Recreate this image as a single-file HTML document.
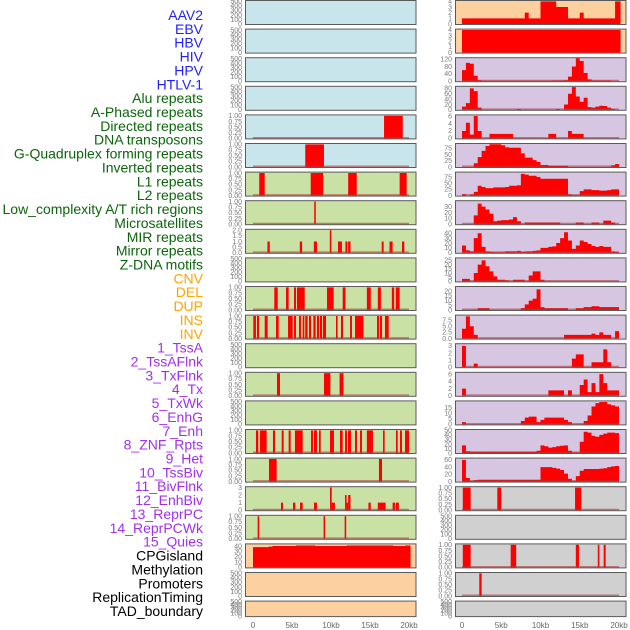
<!DOCTYPE html>
<html><head><meta charset="utf-8"><style>
html,body{margin:0;padding:0;background:#fff}
svg{display:block;font-family:"Liberation Sans",sans-serif}
</style></head><body>
<svg id="chart" width="630" height="630" viewBox="0 0 630 630" xmlns="http://www.w3.org/2000/svg"></svg>
<script>
// ---------- data ----------
const trackLabels = ["AAV2","EBV","HBV","HIV","HPV","HTLV-1","Alu repeats","A-Phased repeats","Directed repeats","DNA transposons","G-Quadruplex forming repeats","Inverted repeats","L1 repeats","L2 repeats","Low_complexity A/T rich regions","Microsatellites","MIR repeats","Mirror repeats","Z-DNA motifs","CNV","DEL","DUP","INS","INV","1_TssA","2_TssAFlnk","3_TxFlnk","4_Tx","5_TxWk","6_EnhG","7_Enh","8_ZNF_Rpts","9_Het","10_TssBiv","11_BivFlnk","12_EnhBiv","13_ReprPC","14_ReprPCWk","15_Quies","CPGisland","Methylation","Promoters","ReplicationTiming","TAD_boundary"];
const labelGroups = [6,13,5,15,5];
const xTickKb = [0,5,10,15,20];
const xTickLabels = ["0","5kb","10kb","15kb","20kb"];

// left column intervals [startKb, endKb, value]
const leftRow4 = [[16.8,19.2,1]];
const leftRow5 = [[6.7,9.1,1]];
const leftRow6 = [[0.8,1.5,1],[7.4,9.0,1],[12.2,13.3,1],[18.8,19.7,1]];
const leftRow7 = [[7.85,8.05,1]];
const leftRow8 = [[1.85,2.15,1],[6.0,6.3,1],[7.8,8.2,1],[9.85,10.05,2],[10.9,11.4,1],[11.85,12.1,1],[12.2,12.5,1],[16.5,16.75,1],[17.5,17.9,1],[19.1,19.4,1]];
const leftRow10 = [[2.73,3.17,1],[4.23,4.57,1],[5.26,5.51,1],[5.64,6.63,1],[9.49,10.34,1],[11.5,11.86,1],[14.6,15.1,1],[16.0,16.4,1],[17.8,18.1,1],[18.3,18.8,1]];
const leftRow11 = [[0.04,0.38,1],[0.51,0.77,1],[1.5,1.88,1],[2.95,3.29,1],[4.49,5.09,1],[5.26,5.51,1],[5.9,6.15,1],[6.37,6.58,1],[6.7,7.0,1],[7.18,7.44,1],[7.74,8.03,1],[8.2,8.46,1],[8.59,8.85,1],[8.97,9.36,1],[10.64,10.85,1],[11.28,11.54,1],[12.44,12.69,1],[13.08,14.15,1],[15.9,16.15,1],[16.28,16.54,1],[16.92,17.4,1]];
const leftRow13 = [[3.08,3.46,1],[9.1,9.92,1],[11.1,11.6,1]];
const leftRow15 = [[0.38,0.68,1],[0.9,1.75,1],[2.56,2.82,1],[3.68,3.93,1],[4.57,4.83,1],[5.38,6.37,1],[7.44,7.69,1],[7.82,8.2,1],[8.46,8.68,1],[9.87,10.38,1],[11.15,11.5,1],[11.8,12.05,1],[12.18,12.56,1],[13.08,13.33,1],[13.72,13.97,1],[14.6,15.38,1],[16.67,16.88,1],[18.33,18.55,1],[18.85,19.1,1],[19.49,20.0,1]];
const leftRow16 = [[2.05,3.03,1],[16.15,16.54,1]];
const leftRow17 = [[3.59,3.85,1],[5.13,5.43,1],[6.03,6.37,1],[7.82,8.2,1],[9.87,10.09,3],[10.09,10.5,1],[11.8,12.0,2],[12.0,12.2,1],[12.2,12.5,2],[14.8,15.1,1],[16.0,17.0,1],[17.9,18.2,1],[18.3,18.7,1]];
const leftRow18 = [[0.6,0.8,1],[9.05,9.25,1],[11.75,11.95,1]];
const cpgBins = [38,38,38,38,39,40,40,40,40,40,40,41,41,41,41,41,40,40,40,40,40,40,40,40,41,41,41,41,41,41,41,41,41,41,41,41,40,40,40,41];

// right column 0.5kb bins (40 bins, 0-20kb)
const aav2Bins = [1,1,1,1,1,1,1,1,1,1,1,1,1,1,1,1,2,1,1,1,4,4,4,4,3,3,3,1,1,1,2,1,1,1,1,1,1,1,1,4];
const ebvBins = [4,4,4,4,4,4,4,4,4,4,4,4,4,4,4,4,4,4,4,4,4,4,4,4,4,4,4,4,4,4,4,4,4,4,4,4,4,4,4,4];
const hivBins = [60,100,95,30,5,2,2,2,2,2,2,2,2,2,2,2,2,2,2,2,2,2,2,3,3,3,5,25,80,125,110,45,10,3,3,3,3,3,0,0];
const aluBins = [12,25,80,70,8,0,0,0,0,0,0,0,0,0,3,0,0,0,0,0,0,0,0,0,3,0,20,60,85,50,30,45,10,8,12,15,14,8,3,0];
const directedBins = [2,4.2,1,6,2,0,0,1.2,1.2,1.2,1.2,1.2,1.2,0,0,0,0,0,0,0,0,0,1.2,1.2,0,0,0,2,1.2,1.2,1.2,0,0,0,0,0,0,0,0,0];
const dnaBins = [0,0,0,15,40,65,85,92,92,92,88,80,78,78,78,55,38,38,28,20,8,8,5,5,5,5,5,0,0,0,0,0,0,0,0,0,0,0,7,12];
const gquadBins = [6,0,5,15,40,35,30,30,33,33,33,35,40,40,42,88,85,80,80,75,68,68,68,68,68,68,68,5,2,2,18,25,25,22,22,20,20,22,25,25];
const invertedBins = [0,0,0,15,35,30,25,18,5,6,7,7,8,12,5,0,3,3,3,3,3,3,3,3,3,0,0,0,0,3,3,0,0,3,3,0,6,6,3,0];
const l1Bins = [15,5,3,30,40,12,3,2,1,1,1,3,3,3,4,2,3,3,4,5,10,10,12,13,20,30,42,25,8,15,25,22,18,14,12,14,12,12,3,2];
const l2Bins = [3,3,0,10,20,25,18,12,6,2,2,1,0,2,2,2,0,7,12,12,2,0,0,0,0,0,0,0,0,0,0,0,0,0,0,0,0,0,0,0];
const lowBins = [0,0,0,0,2,2,2,0,0,0,0,0,0,0,0,2,6,10,12,22,3,2,2,2,2,2,2,0,0,2,2,3,3,4,4,3,3,3,3,3];
const microBins = [4,9,5,1.5,0,0,0,0,0,0,0,0,0,0,0,0,0,0,0,0,0,0,0,0,0,0,1.5,1.5,1.5,1.5,1.5,1.5,1.5,2,1.5,2.5,1.5,1.5,0,3];
const row12Bins = [3,0,0,0.5,0,0,0,0,0,0,0,0,0,0,0,0,0,0,0,0,0,0,0,0,0,0,0,0,1.2,1.8,1.8,0,0,0.7,0.7,0.7,2.5,0.7,0,0];
const row13Bins = [2,0,0,0,0,0,0,0,0,0,0,0,0,0,0,0,0,0,0,0,0,0,1.5,1.5,1.5,1.5,0,1.5,0,0,3,4.5,1,3.5,1,6,3.5,1.5,1.5,1.5];
const row14Bins = [2,0,0,0,0,0,0,0,0,0,0,0,0,0,0,3,6,7,7,2,4,6,6,6,6,6,4,2,0,0,0,3,8,16,19,20,20,18,17,16];
const row15Bins = [17,4,3,3,3,3,3,3,3,3,3,3,3,3,3,3,3,3,3,5,17,15,12,13,15,16,17,5,1,1,25,47,45,38,36,40,43,45,45,44];
const row16Bins = [60,10,2,4,5,5,5,5,5,5,5,5,5,5,5,5,5,5,5,5,40,40,40,38,36,32,22,8,2,15,30,35,35,35,35,36,37,40,42,43];
const rightRow17 = [[0.1,1.1,1],[4.5,5.0,1],[14.4,15.2,1]];
const rightRow19 = [[0.1,1.1,1],[6.2,6.9,1],[14.5,14.9,1],[17.3,17.5,1],[18.05,18.3,1]];
const rightRow20 = [[2.2,2.5,1]];

const emptyTicks = [0,100,200,300,400,500];
const unitTicks = [0,0.25,0.5,0.75,1];

// ---------- layout ----------
const svg = document.getElementById('chart');
const NS = 'http://www.w3.org/2000/svg';
function mk(tag, attrs, parent){const e=document.createElementNS(NS,tag);for(const k in attrs)e.setAttribute(k,attrs[k]);(parent||svg).appendChild(e);return e;}
const L = {x0:245.5,x1:416,kb0:253,kbw:7.8};
const R = {x0:455.5,x1:626,kb0:462,kbw:7.85};
function xScale(col,kb){return col.kb0+kb*col.kbw;}
function rowTop(i){return 0.5+i*28.6;}
function rowH(i){return i===21?15.5:24;}
function yScale(i,v,ymax){const b=rowTop(i)+rowH(i)-0.5;return b-(v/ymax)*(rowH(i)-0.5);}
const BG = {blue:'#c9e5ec',green:'#c9e1a5',orange:'#fdd09f',purple:'#d6c6e2',gray:'#d0d0d0'};

function fmt(v,dec){return v.toFixed(dec);}

function drawPanel(col,i,bg,ticks,dec,ymax,name,drawFn,baseline){
  const g=mk('g',{});
  
  
  const top=rowTop(i),h=rowH(i);
  const rect=mk('rect',{x:col.x0,y:top,width:col.x1-col.x0,height:h,fill:bg,stroke:'#5a5a5a','stroke-width':1},g);
  
  
  const tx = col===L?242:452;
  ticks.forEach(t=>{
    const tt=mk('text',{x:tx,y:yScale(i,t,ymax)+2.3,'text-anchor':'end','font-size':7,fill:'#7a7a7a'},g);
    tt.textContent=fmt(t,dec);
    
    
  });
  if(drawFn) drawFn(g,top,h);
  if(baseline){
    const bl=mk('line',{x1:xScale(col,0),x2:xScale(col,20),y1:top+h-1.2,y2:top+h-1.2,stroke:'rgba(175,55,55,0.6)','stroke-width':1.5},g);
    
    
  }
}
function barsFn(col,i,data,ymax){
  return function(g){
    data.forEach(d=>{
      const y=Math.max(rowTop(i),yScale(i,d[2],ymax));
      const r=mk('rect',{x:xScale(col,d[0]),y:y,width:Math.max(1,xScale(col,d[1])-xScale(col,d[0])),height:yScale(i,0,ymax)-y,fill:'#ff0000'},g);
      
      
    });
  };
}
function areaFn(col,i,bins,ymax,endKb){
  return function(g){
    const y0=yScale(i,0,ymax);
    let d='M'+xScale(col,0)+','+y0;
    bins.forEach((v,k)=>{
      const xa=xScale(col,k*0.5), xb=xScale(col,k===bins.length-1?endKb:(k+1)*0.5);
      const y=Math.max(rowTop(i),yScale(i,v,ymax));
      d+=' L'+xa+','+y+' L'+xb+','+y;
    });
    d+=' L'+xScale(col,endKb)+','+y0+' Z';
    const p=mk('path',{d:d,fill:'#ff0000'},g);
    
    
  };
}

// left column
for(let i=0;i<22;i++){
  const bg = i<6?BG.blue:(i<19?BG.green:BG.orange);
  const map = {4:leftRow4,5:leftRow5,6:leftRow6,7:leftRow7,8:leftRow8,10:leftRow10,11:leftRow11,13:leftRow13,15:leftRow15,16:leftRow16,17:leftRow17,18:leftRow18};
  if(map[i]){
    let ticks=unitTicks,dec=2,ymax=1.04;
    if(i===8){ticks=[0,0.5,1,1.5,2];dec=1;ymax=2.08;}
    if(i===17){ticks=[0,1,2,3];dec=0;ymax=3.1;}
    drawPanel(L,i,bg,ticks,dec,ymax,'left-track-'+i,barsFn(L,i,map[i],ymax),true);
  } else if(i===19){
    drawPanel(L,i,bg,[0,10,20,30,40],0,44,'left-track-cpg',areaFn(L,i,cpgBins,44,20.2),false);
  } else {
    drawPanel(L,i,bg,emptyTicks,0,520,'left-track-'+i+'-empty',null,false);
  }
}
// right column
const rightAreas = {
  0:[aav2Bins,[0,1,2,3,4],0,4.15],1:[ebvBins,[0,1,2,3,4],0,4.15],2:[hivBins,[0,40,80,120],0,128],
  3:[aluBins,[0,20,40,60,80],0,88],4:[directedBins,[0,2,4,6],0,6.3],5:[dnaBins,[0,25,50,75],0,95],
  6:[gquadBins,[0,25,50,75],0,95],7:[invertedBins,[0,10,20,30],0,40],8:[l1Bins,[0,10,20,30,40],0,48],
  9:[l2Bins,[0,5,10,15,20,25],0,28],10:[lowBins,[0,5,10,15,20],0,25],11:[microBins,[0,2.5,5,7.5],1,9.5],
  12:[row12Bins,[0,1,2,3],0,3.3],13:[row13Bins,[0,2,4,6],0,6.5],14:[row14Bins,[0,5,10,15],0,21],
  15:[row15Bins,[0,10,20,30,40,50],0,52],16:[row16Bins,[0,20,40,60],0,65]
};
const rightBars = {17:rightRow17,19:rightRow19,20:rightRow20};
for(let i=0;i<22;i++){
  const bg = i<2?BG.orange:(i<17?BG.purple:BG.gray);
  if(rightAreas[i]){
    const a=rightAreas[i];
    drawPanel(R,i,bg,a[1],a[2],a[3],'right-track-'+i,areaFn(R,i,a[0],a[3],i<2?20.2:20),i>=2);
  } else if(rightBars[i]){
    drawPanel(R,i,bg,unitTicks,2,1.04,'right-track-'+i,barsFn(R,i,rightBars[i],1.04),true);
  } else {
    drawPanel(R,i,bg,emptyTicks,0,520,'right-track-'+i+'-empty',null,false);
  }
}
// x axes
[L,R].forEach((col,ci)=>{
  xTickKb.forEach((kb,k)=>{
    const t=mk('text',{x:xScale(col,kb),y:628,'text-anchor':'middle','font-size':8,fill:'#666'});
    t.textContent=xTickLabels[k];
    
    
  });
});
// track labels
const groupColors=['#1f1fff','#0b650b','#ffa500','#a030f0','#000000'];
let gi=0,cnt=0;
trackLabels.forEach((lab,k)=>{
  while(cnt>=labelGroups[gi]){gi++;cnt=0;}
  cnt++;
  const t=mk('text',{x:203,y:15+k*13.86+5,'text-anchor':'end','font-size':14,fill:groupColors[gi]});
  t.textContent=lab;
  
  
});
</script>
</body></html>
